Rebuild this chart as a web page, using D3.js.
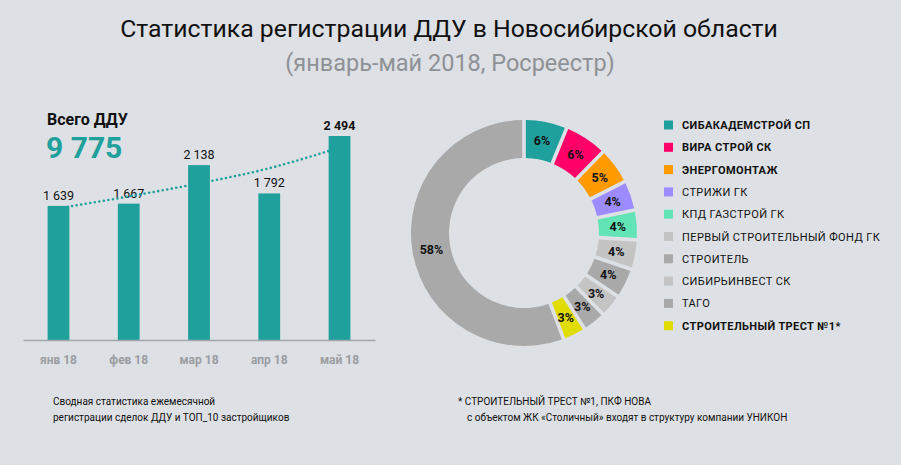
<!DOCTYPE html>
<html>
  <head>
    <meta charset="utf-8"/>
    <style>
      body { margin: 0; background: #dde0e4; }
      text { font-family: Roboto, "Noto Sans", sans-serif; }
    </style>
  </head>
  <body>
    <script src="https://d3js.org/d3.v7.min.js"></script>
    <script type="text/javascript">
      var width = 901, height = 465;

      // monthly registrations
      var months = ["янв 18", "фев 18", "мар 18", "апр 18", "май 18"];
      var monthValues = [1639, 1667, 2138, 1792, 2494];
      // dotted trend line
      var trendValues = [1610, 1755, 1915, 2100, 2310];
      var totalLabel = "9 775";

      // top 10 developers share
      var developers = ["СИБАКАДЕМСТРОЙ СП", "ВИРА СТРОЙ СК", "ЭНЕРГОМОНТАЖ", "СТРИЖИ ГК",
                        "КПД ГАЗСТРОЙ ГК", "ПЕРВЫЙ СТРОИТЕЛЬНЫЙ ФОНД ГК", "СТРОИТЕЛЬ",
                        "СИБИРЬИНВЕСТ СК", "ТАГО", "СТРОИТЕЛЬНЫЙ ТРЕСТ №1*", "прочие"];
      var shares = [6, 6, 5, 4, 4, 4, 4, 3, 3, 3, 58];
      var boldNames = ["СИБАКАДЕМСТРОЙ СП", "ВИРА СТРОЙ СК", "ЭНЕРГОМОНТАЖ", "СТРОИТЕЛЬНЫЙ ТРЕСТ №1*"];
      var colors = ["#1fa09d", "#ff0068", "#ff9a00", "#9c8cff", "#63e4b6", "#c4c4c4",
                    "#a9a9a9", "#c4c4c4", "#a9a9a9", "#e1dc00", "#a9a9a9"];

      var svg = d3.select("body")
                  .append("svg")
                  .attr("width", width)
                  .attr("height", height);

      svg.append("rect").attr("width", width).attr("height", height).attr("fill", "#dde0e4");

      // titles
      svg.append("text")
         .attr("x", 449).attr("y", 37)
         .attr("text-anchor", "middle")
         .attr("font-size", 24.8)
         .attr("fill", "#111")
         .text("Статистика регистрации ДДУ в Новосибирской области");
      svg.append("text")
         .attr("x", 450).attr("y", 71)
         .attr("text-anchor", "middle")
         .attr("font-size", 23.5)
         .attr("fill", "#8e9196")
         .text("(январь-май 2018, Росреестр)");

      // ---- bar chart ----
      var x = d3.scaleBand().domain(months).range([23, 375]).paddingInner(0.69).paddingOuter(0.35);
      var y = d3.scaleLinear().domain([0, 2494]).range([340, 136]);

      svg.selectAll(".bar")
         .data(monthValues)
         .enter().append("rect")
         .attr("x", function(d, i) { return x(months[i]); })
         .attr("y", function(d) { return y(d); })
         .attr("width", x.bandwidth())
         .attr("height", function(d) { return y(0) - y(d); })
         .attr("fill", "#1fa09d");

      svg.selectAll(".val")
         .data(monthValues)
         .enter().append("text")
         .attr("x", function(d, i) { return x(months[i]) + x.bandwidth() / 2; })
         .attr("y", function(d) { return y(d) - 6; })
         .attr("text-anchor", "middle")
         .attr("font-size", 12.5)
         .attr("font-weight", function(d, i) { return i == monthValues.length - 1 ? "bold" : "normal"; })
         .attr("fill", "#111")
         .text(function(d) { return d3.format(",")(d).replace(",", " "); });

      var trend = d3.line()
                    .x(function(d, i) { return x(months[i]) + x.bandwidth() / 2 - (i == 4 ? 11 : 0); })
                    .y(function(d) { return y(d); })
                    .curve(d3.curveMonotoneX);
      svg.append("path")
         .attr("d", trend(trendValues))
         .attr("fill", "none")
         .attr("stroke", "#1fa09d")
         .attr("stroke-width", 2.6)
         .attr("stroke-linecap", "round")
         .attr("stroke-dasharray", "0,4.6");

      var xAxis = svg.append("g")
                     .attr("transform", "translate(0,340)")
                     .call(d3.axisBottom(x).tickSize(0).tickPadding(15));
      xAxis.select(".domain").attr("stroke", "#a3a7ac").attr("stroke-width", 1.5);
      xAxis.selectAll("text")
           .attr("font-family", "Roboto, sans-serif")
           .attr("font-size", 12)
           .attr("font-weight", "bold")
           .attr("fill", "#9a9da2");

      svg.append("text")
         .attr("x", 47).attr("y", 125)
         .attr("font-size", 16).attr("font-weight", "bold")
         .attr("fill", "#111")
         .text("Всего ДДУ");
      svg.append("text")
         .attr("x", 46).attr("y", 158)
         .attr("font-size", 30).attr("font-weight", "bold")
         .attr("fill", "#1fa09d")
         .text(totalLabel);

      // ---- donut ----
      var pie = d3.pie().sort(null).padAngle(0.027);
      var arc = d3.arc().innerRadius(75).outerRadius(113);
      var donut = svg.append("g").attr("transform", "translate(524,233)");
      var arcs = pie(shares);
      donut.selectAll("path")
           .data(arcs)
           .enter().append("path")
           .attr("d", arc)
           .attr("fill", function(d, i) { return colors[i]; });
      donut.selectAll("text")
           .data(arcs)
           .enter().append("text")
           .attr("transform", function(d) { return "translate(" + arc.centroid(d) + ")"; })
           .attr("dy", "0.36em")
           .attr("text-anchor", "middle")
           .attr("font-size", 12.5)
           .attr("font-weight", "bold")
           .attr("fill", "#111")
           .text(function(d) { return d.data + "%"; });

      // legend
      var legend = svg.selectAll(".leg")
                      .data(developers.slice(0, 10))
                      .enter().append("g")
                      .attr("transform", function(d, i) { return "translate(664," + (125 + i * 22.3) + ")"; });
      legend.append("rect")
            .attr("x", 0).attr("y", -4.5)
            .attr("width", 9).attr("height", 9)
            .attr("fill", function(d, i) { return colors[i]; });
      legend.append("text")
            .attr("x", 18).attr("y", 4)
            .attr("font-size", 11)
            .attr("letter-spacing", 0.4)
            .attr("font-weight", function(d) { return boldNames.indexOf(d) > -1 ? "bold" : "normal"; })
            .attr("fill", "#111")
            .text(function(d) { return d; });

      // notes
      var notes = [
        {x: 53, y: 405, t: "Сводная статистика ежемесячной"},
        {x: 53, y: 421, t: "регистрации сделок ДДУ и ТОП_10 застройщиков"},
        {x: 458, y: 405, t: "* СТРОИТЕЛЬНЫЙ ТРЕСТ №1, ПКФ НОВА"},
        {x: 467, y: 421, t: "с объектом ЖК «Столичный» входят в структуру компании УНИКОН"}
      ];
      svg.selectAll(".note")
         .data(notes)
         .enter().append("text")
         .attr("x", function(d) { return d.x; })
         .attr("y", function(d) { return d.y; })
         .attr("font-size", 10)
         .attr("fill", "#111")
         .text(function(d) { return d.t; });
    </script>
  </body>
</html>
